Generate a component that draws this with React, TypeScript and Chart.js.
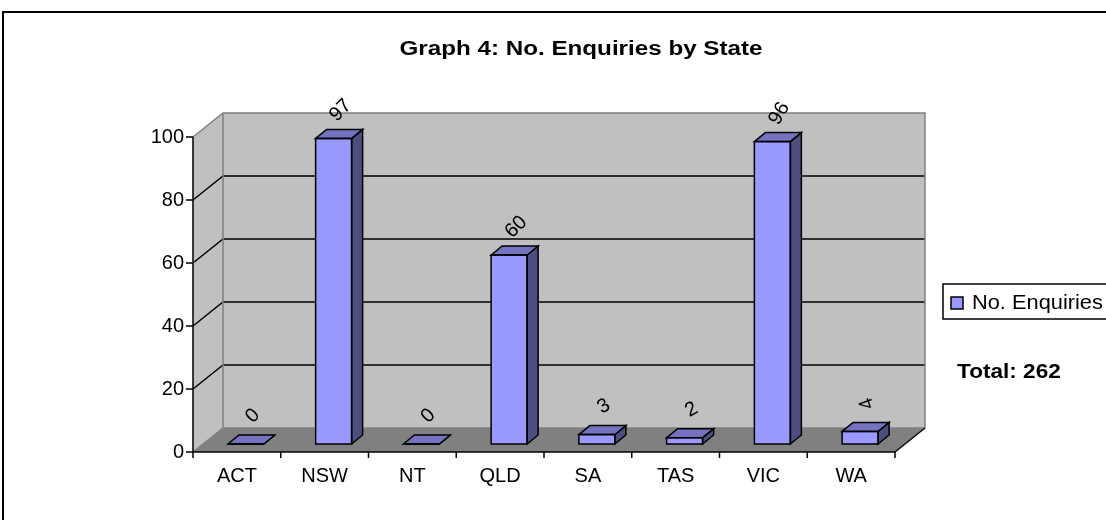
import React, { useEffect, useRef } from "react";
import { Chart, registerables } from "chart.js";

Chart.register(...registerables);

// ---------- data ----------
const categories = ["ACT", "NSW", "NT", "QLD", "SA", "TAS", "VIC", "WA"];
const enquiries = [0, 97, 0, 60, 3, 2, 96, 4];
const yTickValues = [0, 20, 40, 60, 80, 100];
const seriesLabel = "No. Enquiries";
const chartTitle = "Graph 4: No. Enquiries by State";
const totalText = "Total: " + enquiries.reduce((a, b) => a + b, 0);

// ---------- style ----------
const FONT = "Arial, 'Liberation Sans', sans-serif";
const WALL_DX = 30;
const WALL_DY = -24;
const BAR_OFF_X = 9;
const BAR_OFF_Y = -8;
const BAR_DX = 11;
const BAR_DY = -9;
const LABEL_ROT = [-45, -45, -45, -45, -30, -30, -60, -110];
const FRONT = "#9999ff";
const TOP = "#7373bf";
const SIDE = "#4d4d80";

function stretchedText(ctx: any, text: string, x: number, y: number, sx: number, align: string) {
  ctx.save();
  ctx.translate(x, y);
  ctx.scale(sx, 1);
  ctx.textAlign = align;
  ctx.fillText(text, 0, 0);
  ctx.restore();
}

const excel3d = {
  id: "excel3d",
  beforeDraw(chart: any) {
    const ctx = chart.ctx;
    ctx.save();
    ctx.fillStyle = "#ffffff";
    ctx.fillRect(0, 0, chart.width, chart.height);
    ctx.strokeStyle = "#000";
    ctx.lineWidth = 2;
    ctx.strokeRect(3, 12, chart.width + 50, chart.height + 50);
    ctx.fillStyle = "#000";
    ctx.font = "bold 20px " + FONT;
    ctx.textBaseline = "alphabetic";
    stretchedText(ctx, chartTitle, 581, 55, 1.21, "center");
    ctx.restore();
  },
  beforeDatasetsDraw(chart: any) {
    const ctx = chart.ctx;
    const a = chart.chartArea;
    const ys = chart.scales.y;
    const xs = chart.scales.x;
    const L = a.left, R = a.right, T = a.top, B = a.bottom;
    ctx.save();
    // side wall
    ctx.fillStyle = "#c0c0c0";
    ctx.beginPath();
    ctx.moveTo(L, T);
    ctx.lineTo(L + WALL_DX, T + WALL_DY);
    ctx.lineTo(L + WALL_DX, B + WALL_DY);
    ctx.lineTo(L, B);
    ctx.closePath();
    ctx.fill();
    // back wall
    ctx.fillRect(L + WALL_DX, T + WALL_DY, R - L, B - T);
    // floor
    ctx.fillStyle = "#808080";
    ctx.beginPath();
    ctx.moveTo(L, B);
    ctx.lineTo(R, B);
    ctx.lineTo(R + WALL_DX, B + WALL_DY);
    ctx.lineTo(L + WALL_DX, B + WALL_DY);
    ctx.closePath();
    ctx.fill();
    // gridlines
    ctx.lineWidth = 1.5;
    ctx.strokeStyle = "#000";
    yTickValues.forEach((v) => {
      if (v === 0 || v === 100) return;
      const py = ys.getPixelForValue(v);
      ctx.beginPath();
      ctx.moveTo(L, py);
      ctx.lineTo(L + WALL_DX, py + WALL_DY);
      ctx.lineTo(R + WALL_DX, py + WALL_DY);
      ctx.stroke();
    });
    // wall edges (gray)
    ctx.strokeStyle = "#808080";
    ctx.lineWidth = 1.5;
    ctx.beginPath();
    ctx.moveTo(L, T);
    ctx.lineTo(L + WALL_DX, T + WALL_DY);
    ctx.lineTo(R + WALL_DX, T + WALL_DY);
    ctx.lineTo(R + WALL_DX, B + WALL_DY);
    ctx.moveTo(L + WALL_DX, T + WALL_DY);
    ctx.lineTo(L + WALL_DX, B + WALL_DY);
    ctx.lineTo(R + WALL_DX, B + WALL_DY);
    ctx.moveTo(L, B);
    ctx.lineTo(L + WALL_DX, B + WALL_DY);
    ctx.stroke();
    // floor right edge
    ctx.strokeStyle = "#000";
    ctx.beginPath();
    ctx.moveTo(R, B);
    ctx.lineTo(R + WALL_DX, B + WALL_DY);
    ctx.stroke();
    // axes
    ctx.lineWidth = 1.5;
    ctx.beginPath();
    ctx.moveTo(L, T);
    ctx.lineTo(L, B);
    ctx.lineTo(R, B);
    yTickValues.forEach((v) => {
      const py = ys.getPixelForValue(v);
      ctx.moveTo(L - 7, py);
      ctx.lineTo(L, py);
    });
    const step = xs.getPixelForValue(1) - xs.getPixelForValue(0);
    for (let i = 0; i <= categories.length; i++) {
      const px = i < categories.length ? xs.getPixelForValue(i) - step / 2 : R;
      ctx.moveTo(px, B);
      ctx.lineTo(px, B + 6);
    }
    ctx.stroke();
    ctx.restore();
    ctx.save();
    ctx.translate(BAR_OFF_X, BAR_OFF_Y);
  },
  afterDatasetsDraw(chart: any) {
    const ctx = chart.ctx;
    const meta = chart.getDatasetMeta(0);
    ctx.lineWidth = 1.5;
    ctx.strokeStyle = "#000";
    ctx.lineJoin = "miter";
    meta.data.forEach((bar: any) => {
      const p = bar.getProps(["x", "y", "base", "width"], true);
      const l = p.x - p.width / 2;
      const r = p.x + p.width / 2;
      // side
      ctx.fillStyle = SIDE;
      ctx.beginPath();
      ctx.moveTo(r, p.y);
      ctx.lineTo(r + BAR_DX, p.y + BAR_DY);
      ctx.lineTo(r + BAR_DX, p.base + BAR_DY);
      ctx.lineTo(r, p.base);
      ctx.closePath();
      ctx.fill();
      ctx.stroke();
      // top
      ctx.fillStyle = TOP;
      ctx.beginPath();
      ctx.moveTo(l, p.y);
      ctx.lineTo(l + BAR_DX, p.y + BAR_DY);
      ctx.lineTo(r + BAR_DX, p.y + BAR_DY);
      ctx.lineTo(r, p.y);
      ctx.closePath();
      ctx.fill();
      ctx.stroke();
      // front outline
      ctx.strokeRect(l, p.y, r - l, p.base - p.y);
    });
    ctx.restore();
    // value labels
    ctx.save();
    ctx.fillStyle = "#000";
    ctx.font = "20px " + FONT;
    ctx.textAlign = "center";
    ctx.textBaseline = "middle";
    meta.data.forEach((bar: any, i: number) => {
      const p = bar.getProps(["x", "y"], true);
      ctx.save();
      ctx.translate(p.x + BAR_OFF_X + 7, p.y + BAR_OFF_Y - 28);
      ctx.rotate((LABEL_ROT[i] * Math.PI) / 180);
      ctx.fillText(String(enquiries[i]), 0, 0);
      ctx.restore();
    });
    ctx.restore();
  },
  afterDraw(chart: any) {
    const ctx = chart.ctx;
    ctx.save();
    // legend
    ctx.strokeStyle = "#000";
    ctx.lineWidth = 1.5;
    ctx.strokeRect(943, 284, 200, 35);
    ctx.fillStyle = FRONT;
    ctx.fillRect(951, 297, 12, 12);
    ctx.strokeRect(951, 297, 12, 12);
    ctx.fillStyle = "#000";
    ctx.font = "20px " + FONT;
    ctx.textBaseline = "middle";
    stretchedText(ctx, seriesLabel, 972, 303, 1.09, "left");
    ctx.font = "bold 20px " + FONT;
    ctx.textBaseline = "middle";
    stretchedText(ctx, totalText, 957, 372, 1.13, "left");
    ctx.restore();
  },
};

export default function App() {
  const ref = useRef<HTMLCanvasElement | null>(null);
  useEffect(() => {
    document.body.style.margin = "0";
    const canvas = ref.current;
    if (!canvas) return;
    const chart = new Chart(canvas, {
      type: "bar",
      data: {
        labels: categories,
        datasets: [
          {
            label: seriesLabel,
            data: enquiries,
            backgroundColor: FRONT,
            borderWidth: 0,
            categoryPercentage: 1,
            barPercentage: 0.41,
            clip: false,
          } as any,
        ],
      },
      options: {
        responsive: false,
        animation: false,
        devicePixelRatio: 1,
        layout: { padding: { left: 0, top: 137, right: 211, bottom: 0 } },
        plugins: {
          legend: { display: false },
          title: { display: false },
          tooltip: { enabled: false },
        },
        scales: {
          x: {
            type: "category",
            offset: true,
            grid: { display: false, drawTicks: false },
            border: { display: false },
            ticks: {
              color: "#000",
              font: { family: FONT, size: 20 },
              padding: 12,
              maxRotation: 0,
              autoSkip: false,
            },
            afterFit: (s: any) => {
              s.height = 68;
            },
          },
          y: {
            min: 0,
            max: 100,
            grid: { display: false, drawTicks: false },
            border: { display: false },
            ticks: {
              stepSize: 20,
              color: "#000",
              font: { family: FONT, size: 20 },
              padding: 9,
            },
            afterFit: (s: any) => {
              s.width = 193;
            },
          },
        },
      },
      plugins: [excel3d],
    });
    return () => chart.destroy();
  }, []);
  return (
    <div style={{ width: 1106, height: 520 }}>
      <canvas ref={ref} width={1106} height={520} style={{ display: "block" }} />
    </div>
  );
}
